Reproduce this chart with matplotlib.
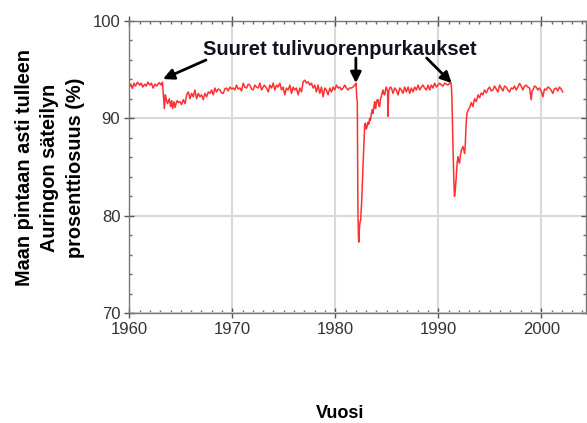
import numpy as np
import matplotlib
matplotlib.use('Agg')
from matplotlib import pyplot as plt
from matplotlib.ticker import MultipleLocator

# monthly-ish readings of the transmission record (year, percent)
years = [
    1960.00, 1960.15, 1960.30, 1960.45, 1960.60, 1960.80, 1961.00, 1961.15, 1961.30, 1961.50,
    1961.65, 1961.80, 1962.00, 1962.15, 1962.30, 1962.50, 1962.65, 1962.90, 1963.10, 1963.22,
    1963.30, 1963.40, 1963.50, 1963.60, 1963.72, 1963.88, 1964.01, 1964.12, 1964.21, 1964.34,
    1964.45, 1964.53, 1964.65, 1964.76, 1964.92, 1965.08, 1965.24, 1965.41, 1965.57, 1965.73,
    1965.89, 1966.05, 1966.21, 1966.37, 1966.53, 1966.70, 1966.86, 1967.02, 1967.18, 1967.34,
    1967.50, 1967.67, 1967.83, 1967.99, 1968.15, 1968.31, 1968.47, 1968.64, 1968.80, 1968.96,
    1969.12, 1969.28, 1969.44, 1969.60, 1969.77, 1969.93, 1970.09, 1970.25, 1970.41, 1970.57,
    1970.74, 1970.90, 1971.06, 1971.22, 1971.38, 1971.55, 1971.71, 1971.87, 1972.03, 1972.19,
    1972.35, 1972.52, 1972.68, 1972.84, 1973.10, 1973.32, 1973.49, 1973.65, 1973.81, 1973.97,
    1974.13, 1974.29, 1974.45, 1974.62, 1974.78, 1974.94, 1975.10, 1975.26, 1975.43, 1975.59,
    1975.75, 1975.91, 1976.07, 1976.23, 1976.40, 1976.56, 1976.72, 1976.88, 1977.04, 1977.20,
    1977.36, 1977.53, 1977.69, 1977.85, 1978.01, 1978.17, 1978.33, 1978.50, 1978.66, 1978.82,
    1978.98, 1979.14, 1979.30, 1979.47, 1979.63, 1979.79, 1979.95, 1980.11, 1980.27, 1980.44,
    1980.60, 1980.76, 1980.92, 1981.08, 1981.24, 1981.41, 1981.57, 1981.73, 1981.89, 1982.02,
    1982.08, 1982.14, 1982.20, 1982.25, 1982.28, 1982.33, 1982.40, 1982.47, 1982.57, 1982.65,
    1982.72, 1982.79, 1982.86, 1982.92, 1983.02, 1983.10, 1983.18, 1983.26, 1983.34, 1983.42,
    1983.51, 1983.59, 1983.67, 1983.75, 1983.83, 1983.91, 1983.99, 1984.07, 1984.15, 1984.23,
    1984.31, 1984.39, 1984.47, 1984.55, 1984.63, 1984.71, 1984.80, 1984.88, 1984.96, 1985.08,
    1985.12, 1985.18, 1985.22, 1985.34, 1985.45, 1985.61, 1985.77, 1985.93, 1986.10, 1986.26,
    1986.42, 1986.58, 1986.74, 1986.91, 1987.07, 1987.23, 1987.39, 1987.55, 1987.71, 1987.88,
    1988.04, 1988.20, 1988.36, 1988.52, 1988.68, 1988.85, 1989.01, 1989.17, 1989.33, 1989.49,
    1989.65, 1989.82, 1989.98, 1990.14, 1990.30, 1990.46, 1990.62, 1990.78, 1990.94, 1991.10,
    1991.22, 1991.28, 1991.33, 1991.40, 1991.47, 1991.52, 1991.58, 1991.65, 1991.75, 1991.83,
    1991.91, 1992.00, 1992.07, 1992.15, 1992.24, 1992.32, 1992.40, 1992.48, 1992.56, 1992.62,
    1992.66, 1992.72, 1992.79, 1992.89, 1993.05, 1993.21, 1993.37, 1993.53, 1993.70, 1993.86,
    1994.02, 1994.18, 1994.34, 1994.50, 1994.67, 1994.83, 1994.99, 1995.15, 1995.31, 1995.47,
    1995.64, 1995.80, 1995.96, 1996.12, 1996.28, 1996.44, 1996.60, 1996.76, 1996.93, 1997.09,
    1997.25, 1997.41, 1997.57, 1997.73, 1997.90, 1998.06, 1998.22, 1998.38, 1998.54, 1998.70,
    1998.87, 1999.03, 1999.11, 1999.19, 1999.35, 1999.51, 1999.67, 1999.83, 2000.00, 2000.16,
    2000.32, 2000.48, 2000.64, 2000.80, 2000.96, 2001.12, 2001.28, 2001.45, 2001.61, 2001.77,
    2001.93, 2002.09,
]
transmission = [
    93.2, 93.5, 93.05, 93.6, 93.3, 93.7, 93.4, 93.6, 93.2, 93.5,
    93.3, 93.7, 93.4, 93.6, 93.1, 93.5, 93.3, 93.65, 93.4, 93.7,
    92.55, 91.0, 92.4, 91.9, 91.5, 92.0, 91.2, 91.8, 91.0, 91.7,
    91.1, 91.5, 91.8, 91.6, 91.7, 91.4, 91.9, 91.5, 92.4, 92.7,
    92.0, 92.55, 92.2, 92.9, 92.0, 92.55, 92.2, 92.4, 91.9, 92.55,
    92.2, 92.7, 92.55, 92.9, 92.4, 93.1, 92.7, 93.0, 92.9, 92.6,
    92.55, 93.0, 93.1, 92.8, 93.2, 93.0, 93.1, 92.9, 93.4, 93.0,
    93.1, 92.8, 93.6, 93.2, 93.1, 93.5, 93.4, 93.0, 92.9, 93.4,
    93.2, 93.1, 93.6, 92.9, 93.4, 93.1, 92.7, 93.4, 93.1, 93.6,
    92.9, 93.4, 93.2, 93.6, 92.9, 93.2, 92.4, 93.1, 92.9, 93.4,
    92.55, 93.2, 92.9, 93.1, 92.4, 93.1, 92.7, 93.75, 93.9, 93.6,
    93.75, 93.4, 93.6, 93.1, 93.4, 92.7, 93.4, 92.55, 93.2, 92.2,
    93.1, 92.9, 92.4, 93.1, 92.7, 93.2, 92.9, 93.4, 93.1, 93.2,
    92.9, 93.1, 93.4, 93.1, 92.9, 93.1, 93.1, 93.2, 93.4, 93.6,
    92.2, 91.7, 80.5, 78.0, 77.3, 78.5, 79.3, 79.6, 81.6, 84.0,
    85.8, 87.5, 89.3, 89.5, 88.9, 89.2, 89.6, 89.4, 90.0, 89.8,
    90.5, 90.9, 90.5, 91.2, 91.7, 91.0, 91.5, 91.9, 91.9, 91.3,
    91.2, 92.0, 92.2, 92.6, 92.9, 92.5, 92.4, 92.9, 93.2, 92.7,
    90.2, 92.6, 92.9, 93.2, 93.1, 92.55, 93.1, 92.9, 92.4, 93.1,
    92.9, 92.55, 93.2, 92.7, 93.2, 92.55, 93.1, 92.7, 93.2, 92.9,
    93.4, 92.9, 93.2, 93.4, 93.1, 92.9, 93.4, 92.9, 93.4, 93.1,
    93.6, 93.2, 93.4, 93.6, 93.4, 93.3, 93.6, 93.5, 93.4, 93.6,
    93.7, 93.2, 92.0, 88.5, 85.7, 83.5, 82.0, 82.6, 84.0, 85.3,
    86.05, 85.6, 85.4, 86.2, 86.7, 86.9, 87.1, 86.8, 86.4, 87.2,
    88.1, 89.6, 90.5, 90.8, 91.1, 91.6, 91.2, 92.0, 91.7, 92.4,
    92.1, 92.6, 92.4, 92.9, 92.6, 93.0, 93.2, 92.8, 92.9, 93.3,
    93.0, 92.7, 93.4, 93.1, 92.8, 93.3, 93.2, 92.9, 92.7, 93.1,
    93.0, 93.3, 92.9, 93.2, 93.57, 93.3, 92.9, 93.3, 93.4, 93.2,
    93.1, 91.9, 92.8, 92.9, 93.3, 93.2, 92.9, 93.1, 92.8, 92.2,
    93.0, 92.9, 93.2, 93.1, 92.9, 92.55, 93.0, 93.1, 92.8, 93.2,
    93.0, 92.7,
]

fig = plt.figure(figsize=(5.87, 4.23), dpi=100)
ax = fig.add_axes([0.2203, 0.2593, 0.778, 0.6917])

ax.plot(years, transmission, color='#ff3030', lw=1.1)

ax.set_xlim(1960, 2004.35)
ax.set_ylim(70, 100)
ax.xaxis.set_major_locator(MultipleLocator(10))
ax.xaxis.set_minor_locator(MultipleLocator(1))
ax.yaxis.set_major_locator(MultipleLocator(10))
ax.yaxis.set_minor_locator(MultipleLocator(2))
ax.grid(True, which='major', color='#d9d9d9', lw=1.5)
ax.set_axisbelow(True)

for s in ax.spines.values():
    s.set_color('#777777')
    s.set_linewidth(1.0)
ax.tick_params(which='major', direction='inout', length=7, width=1, color='#555555',
               top=True, right=True, labelsize=12, labelcolor='#333333', pad=3)
ax.tick_params(which='minor', direction='in', length=2.5, width=1, color='#666666',
               top=True, right=True)
for lab in ax.get_xticklabels() + ax.get_yticklabels():
    lab.set_family('Liberation Sans')

# labels placed in figure pixels
W, H = 587, 423
fig.text(50 / W, 1 - 168 / H,
         'Maan pintaan asti tulleen\nAuringon säteilyn\nprosenttiosuus (%)',
         rotation=90, ha='center', va='center', fontsize=14.3, fontweight='bold',
         family='Liberation Sans', linespacing=1.45, multialignment='center')
fig.text(340 / W, 1 - 413 / H, 'Vuosi', ha='center', va='center',
         fontsize=13, fontweight='bold', family='Liberation Sans')

ax.text(1980.44, 97.05, 'Suuret tulivuorenpurkaukset', ha='center', va='center',
        fontsize=14.5, fontweight='bold', family='Liberation Sans', color='#111122')
arrow = dict(arrowstyle='-|>', color='black', lw=2, mutation_scale=16,
             shrinkA=0, shrinkB=0)
ax.annotate('', xy=(1963.27, 94.02), xytext=(1967.44, 95.97), arrowprops=arrow)
ax.annotate('', xy=(1982.0, 93.61), xytext=(1982.0, 96.18), arrowprops=arrow)
ax.annotate('', xy=(1991.3, 93.61), xytext=(1988.87, 96.18), arrowprops=arrow)

fig.savefig('out.png', dpi=100)
